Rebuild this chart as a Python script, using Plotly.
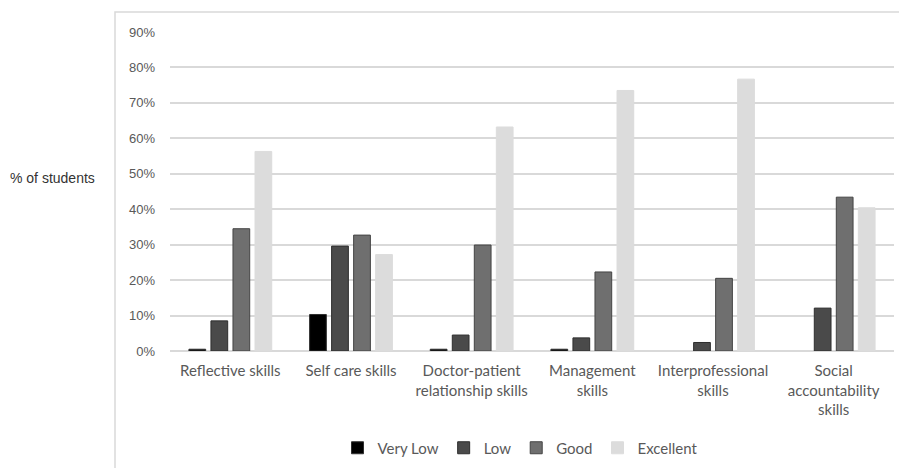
import plotly.graph_objects as go

categories = ["Reflective skills", "Self care skills", "Doctor-patient<br>relationship skills",
              "Management<br>skills", "Interprofessional<br>skills", "Social<br>accountability<br>skills"]
very_low = [0.5, 10.3, 0.5, 0.5, 0.0, 0.0]
low = [8.5, 29.6, 4.5, 3.7, 2.4, 12.1]
good = [34.5, 32.7, 29.9, 22.3, 20.5, 43.4]
excellent = [56.3, 27.2, 63.2, 73.5, 76.7, 40.4]
series_names = ["Very Low", "Low", "Good", "Excellent"]
tick_vals = [0, 10, 20, 30, 40, 50, 60, 70, 80, 90]
tick_text = [f"{v}%" for v in tick_vals]

colors = ["#000000", "#4a4a4a", "#6f6f6f", "#dcdcdc"]
outlines = ["#303030", "#2e2e2e", "#444444", "#dcdcdc"]

fig = go.Figure()
for name, vals, c, oc in zip(series_names, [very_low, low, good, excellent], colors, outlines):
    widths = [1 if v > 0 else 0 for v in vals]
    fig.add_trace(go.Bar(x=categories, y=vals, name=name,
                         marker=dict(color=c, line=dict(color=oc, width=widths))))

W, H = 899, 468
L, R, T, B = 170, 5, 32, 116
pw = W - L - R
ph = H - T - B

def px_x(x):
    return (x - L) / pw

def px_y(y):
    return (H - B - y) / ph

fig.update_layout(
    width=W, height=H,
    margin=dict(l=L, r=R, t=T, b=B),
    paper_bgcolor="white", plot_bgcolor="white",
    barmode="group", bargap=0.27, bargroupgap=0.24,
    font=dict(family="Lato, sans-serif", color="#595959"),
    xaxis=dict(tickfont=dict(family="Lato, sans-serif", size=15, color="#595959"),
               showgrid=False, showline=False, ticks="", ticklabelstandoff=9),
    yaxis=dict(range=[0, 90], tickvals=tick_vals, ticktext=tick_text,
               tickfont=dict(family="Liberation Sans, Arial, sans-serif", size=13, color="#595959"),
               showgrid=True, gridcolor="#d9d9d9", gridwidth=1.5,
               zeroline=True, zerolinecolor="#d9d9d9", zerolinewidth=1.5,
               showline=False, ticks="", ticklabelstandoff=14),
    legend=dict(orientation="h", x=px_x(520), xanchor="center", y=px_y(448), yanchor="middle",
                font=dict(family="Lato, sans-serif", size=15, color="#595959"),
                traceorder="normal", itemwidth=30),
    showlegend=True,
    shapes=[dict(type="rect", xref="paper", yref="paper",
                 x0=px_x(115), x1=px_x(920), y0=px_y(490), y1=px_y(12),
                 line=dict(color="#d9d9d9", width=1.5), layer="below")],
    annotations=[dict(text="% of students", xref="paper", yref="paper",
                      x=px_x(8), xanchor="left", y=px_y(178), yanchor="middle",
                      showarrow=False,
                      font=dict(family="Liberation Sans, Arial, sans-serif", size=14, color="#333333"))],
)

fig.write_html("out.html")
